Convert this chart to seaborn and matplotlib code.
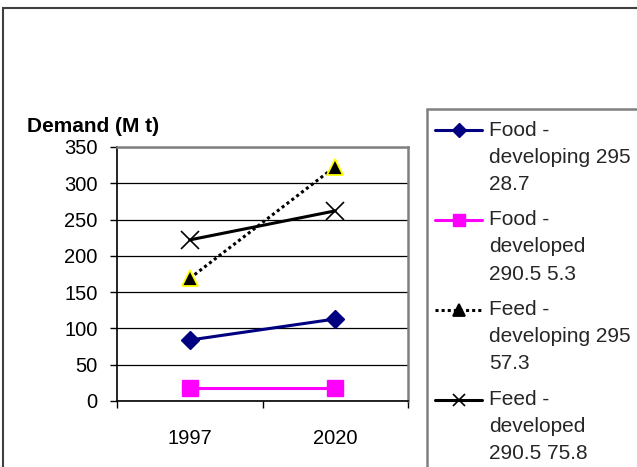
import numpy as np
import pandas as pd
import matplotlib
matplotlib.use('Agg')
import matplotlib.pyplot as plt
from matplotlib.lines import Line2D
from matplotlib.patches import Rectangle
from matplotlib.legend_handler import HandlerLine2D

import seaborn as sns

# chart data
years = ['1997', '2020']
food_developing = [84, 113]
food_developed = [18, 18]
feed_developing = [169, 323]
feed_developed = [222, 262]
series_labels = ['Food -\ndeveloping 295\n28.7',
                 'Food -\ndeveloped\n290.5 5.3',
                 'Feed -\ndeveloping 295\n57.3',
                 'Feed -\ndeveloped\n290.5 75.8']
y_ticks = [0, 50, 100, 150, 200, 250, 300, 350]
y_title = 'Demand (M t)'

W, H = 637, 467
LINE_STEP = 27  # px between text lines in the legend


class FirstLineHandler(HandlerLine2D):
    '''Put the legend handle next to the first line of a 3-line label.'''
    def create_artists(self, legend, orig_handle, xdescent, ydescent,
                       width, height, fontsize, trans):
        lift = LINE_STEP * 72 / 100
        return super().create_artists(legend, orig_handle, xdescent, ydescent,
                                      width, height + 2 * lift, fontsize, trans)


sns.set_theme(style='white')
plt.rcParams['font.family'] = ['Liberation Sans', 'DejaVu Sans']

fig = plt.figure(figsize=(W / 100, H / 100), dpi=100)
ax = fig.add_axes([117 / W, 1 - 401 / H, (408 - 117) / W, (401 - 147) / H])

styles = [
    dict(color='#000080', linestyle='-', linewidth=2.2, marker='D', markersize=9.5,
         markerfacecolor='#000080', markeredgecolor='#000080', markeredgewidth=1),
    dict(color='#FF00FF', linestyle='-', linewidth=2.2, marker='s', markersize=11.5,
         markerfacecolor='#FF00FF', markeredgecolor='#FF00FF', markeredgewidth=1),
    dict(color='black', linestyle=(0, (1, 1)), linewidth=2.2, marker='^', markersize=12,
         markerfacecolor='black', markeredgecolor='yellow', markeredgewidth=1.3),
    dict(color='black', linestyle='-', linewidth=2.2, marker='x', markersize=13,
         markerfacecolor='black', markeredgecolor='black', markeredgewidth=1.2),
]
all_series = [food_developing, food_developed, feed_developing, feed_developed]

for values, label, style in zip(all_series, series_labels, styles):
    df = pd.DataFrame({'year': years, 'demand': values})
    sns.lineplot(x='year', y='demand', data=df, ax=ax, label=label, **style)

ax.set_xlim(-0.5, 1.5)
ax.set_ylim(0, 350)
ax.set_yticks(y_ticks)
ax.set_xticks([0, 1])
ax.set_xticklabels(years)
ax.set_xticks([-0.5, 0.5, 1.5], minor=True)
ax.set_xlabel('')
ax.set_ylabel('')

ax.tick_params(axis='x', which='major', bottom=True, length=0, pad=20, labelsize=14.5,
               labelcolor='black')
ax.tick_params(axis='x', which='minor', bottom=True, length=5, width=1, color='black',
               direction='out')
ax.tick_params(axis='y', left=True, length=5, width=1, color='black', direction='out',
               pad=9, labelsize=14.5, labelcolor='black')

ax.yaxis.grid(True, color='black', linewidth=0.9)
ax.set_axisbelow(True)
for side in ['left', 'bottom']:
    ax.spines[side].set_color('black')
    ax.spines[side].set_linewidth(1.2)
for side in ['top', 'right']:
    ax.spines[side].set_color('#808080')
    ax.spines[side].set_linewidth(1.8)

fig.text(27 / W, 1 - 127 / H, y_title, fontsize=15, fontweight='bold',
         va='center', ha='left', color='black')

# outer chart frame and legend frame (both run off the picture)
fig.patches.append(Rectangle((3 / W, -0.1), 1.2, 1.1 - 8 / H, transform=fig.transFigure,
                             fill=False, edgecolor='#404040', linewidth=1.5))
fig.patches.append(Rectangle((427 / W, -0.1), 1.0, 1.1 - 109 / H, transform=fig.transFigure,
                             fill=False, edgecolor='#808080', linewidth=1.8))

handles, labels = ax.get_legend_handles_labels()
ax.get_legend().remove()
leg = fig.legend(handles, labels, loc='upper left',
                 bbox_to_anchor=(435 / W, 1 - 120.5 / H), frameon=False,
                 borderpad=0, borderaxespad=0, fontsize=15, handlelength=2.26,
                 handletextpad=0.34, labelspacing=0.8, markerscale=0.7,
                 handler_map={Line2D: FirstLineHandler()})
for t in leg.get_texts():
    t.set_linespacing(1.54)
# the legend triangle is plain black in the reference
leg.legend_handles[2].set_markeredgecolor('black')

fig.savefig('out.png', dpi=100)
